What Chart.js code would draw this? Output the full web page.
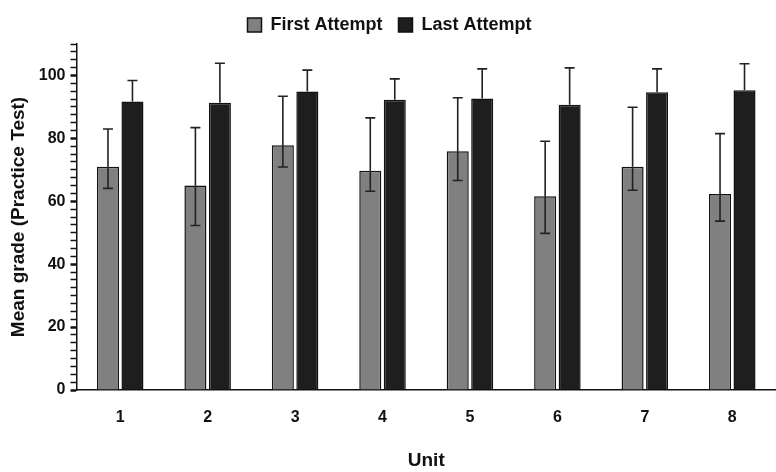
<!DOCTYPE html>
<html><head><meta charset="utf-8">
<script src="https://cdn.jsdelivr.net/npm/chart.js@4"></script>
<style>html,body{margin:0;padding:0;background:#fff}#w{width:776px;height:472px}</style>
</head><body><div id="w"><canvas id="c"></canvas></div>
<script>
const units = ['1','2','3','4','5','6','7','8'];
const firstMean = [71.0, 65.0, 77.8, 69.7, 75.9, 61.6, 71.0, 62.3];
const firstUpper = [83.0, 83.4, 93.4, 86.5, 92.9, 79.1, 89.9, 81.5];
const firstLower = [64.1, 52.3, 70.9, 63.2, 66.6, 49.8, 63.5, 53.7];
const lastMean = [91.7, 91.3, 94.9, 92.3, 92.7, 90.7, 94.7, 95.3];
const lastUpper = [98.4, 103.9, 101.7, 98.9, 102.1, 102.4, 102.1, 103.7];
const errUpper = [firstUpper, lastUpper];
const errLower = [firstLower, null];

const errPlugin = {
  id: 'err',
  afterDatasetsDraw(chart) {
    const ctx = chart.ctx, y = chart.scales.y;
    ctx.save(); ctx.strokeStyle = '#222'; ctx.lineWidth = 1.6;
    chart.data.datasets.forEach((ds, di) => {
      chart.getDatasetMeta(di).data.forEach((bar, i) => {
        const x = bar.x, top = y.getPixelForValue(errUpper[di][i]);
        ctx.beginPath(); ctx.moveTo(x, bar.y); ctx.lineTo(x, top);
        ctx.moveTo(x - 5, top); ctx.lineTo(x + 5, top); ctx.stroke();
        if (errLower[di]) {
          const lo = y.getPixelForValue(errLower[di][i]);
          ctx.beginPath(); ctx.moveTo(x, bar.y); ctx.lineTo(x, lo);
          ctx.moveTo(x - 5, lo); ctx.lineTo(x + 5, lo); ctx.stroke();
        }
      });
    });
    ctx.restore();
  }
};

new Chart(document.getElementById('c'), {
  type: 'bar',
  data: { labels: units, datasets: [
    { label: 'First Attempt', data: firstMean, backgroundColor: '#808080', borderColor: '#111', borderWidth: 1.5 },
    { label: 'Last Attempt', data: lastMean, backgroundColor: '#1e1e1e', borderColor: '#111', borderWidth: 1.5 }
  ]},
  options: {
    responsive: true, maintainAspectRatio: false, animation: false,
    layout: { padding: { top: 0, right: 0, left: 3, bottom: 0 } },
    categoryPercentage: 0.56, barPercentage: 0.9,
    plugins: {
      tooltip: { enabled: false },
      legend: { position: 'top', labels: { boxWidth: 14, boxHeight: 14, color: '#111', padding: 16,
        font: { family: 'Liberation Sans, Arial', size: 18, weight: 'bold' } } }
    },
    scales: {
      x: {
        grid: { drawOnChartArea: false, color: '#111', tickLength: 0, drawTicks: false },
        border: { color: '#111', width: 1.5 },
        ticks: { color: '#111', padding: 18, font: { family: 'Liberation Sans, Arial', size: 16, weight: 'bold' } },
        title: { display: true, text: 'Unit', color: '#111', padding: { top: 4, bottom: 0 },
          font: { family: 'Liberation Sans, Arial', size: 19, weight: 'bold' } }
      },
      y: {
        min: 0, max: 110,
        grid: { drawOnChartArea: false, color: '#111', tickLength: 6,
          tickWidth: c => (c.tick && c.tick.value % 20 === 0) ? 2.5 : 1.5 },
        border: { color: '#111', width: 1.5 },
        ticks: { stepSize: 2.5, autoSkip: false, color: '#111', padding: 5,
          callback: v => (v % 20 === 0 ? v : ''),
          font: { family: 'Liberation Sans, Arial', size: 16, weight: 'bold' } },
        title: { display: true, text: 'Mean grade (Practice Test)', color: '#111',
          font: { family: 'Liberation Sans, Arial', size: 19, weight: 'bold' } }
      }
    }
  },
  plugins: [errPlugin]
});
</script></body></html>
